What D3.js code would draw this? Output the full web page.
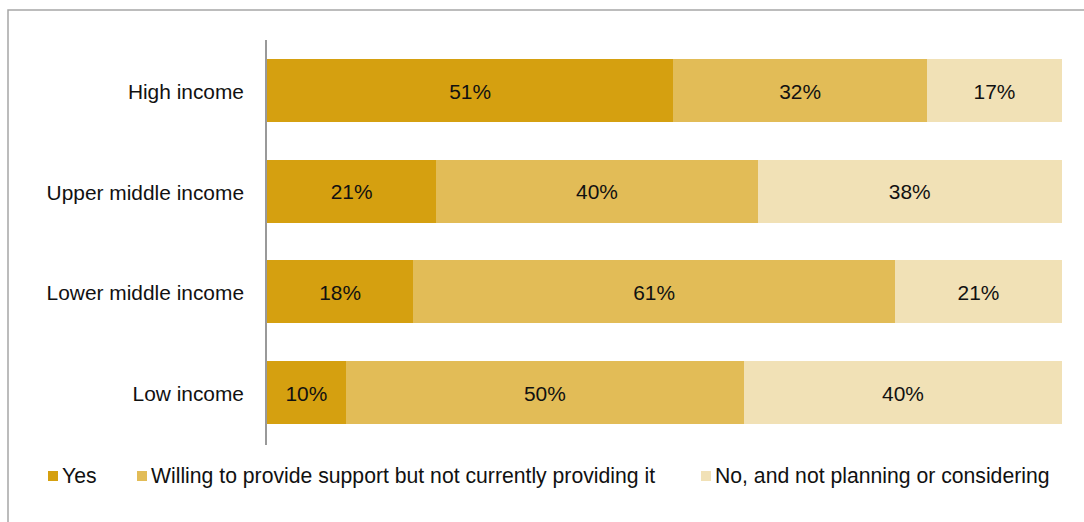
<!DOCTYPE html>
<html>
<head>
<meta charset="utf-8">
<script src="https://cdn.jsdelivr.net/npm/d3@7"></script>
<style>
  body { margin: 0; background: #fff; }
  svg { font-family: "Liberation Sans", Arial, sans-serif; }
</style>
</head>
<body>
<div id="chart"></div>
<script>
// chart data (shares, labels shown rounded)
var groups = ["High income", "Upper middle income", "Lower middle income", "Low income"]
var seriesNames = ["Yes", "Willing to provide support but not currently providing it", "No, and not planning or considering"]
var yesValues = [51.1, 21.3, 18.4, 9.9]
var willingValues = [31.9, 40.4, 60.6, 50.1]
var noValues = [17.0, 38.3, 21.0, 40.0]
var colors = ["#d5a010", "#e2bc57", "#f1e1b6"]

var width = 1084, height = 522
var margin = {top: 40, right: 22, bottom: 79, left: 267}
var fontSize = "20.9px"

var svg = d3.select("#chart")
  .append("svg")
    .attr("width", width)
    .attr("height", height)

// frame around the figure
svg.append("path")
  .attr("d", "M8,522 V10 H1084")
  .attr("fill", "none")
  .attr("stroke", "#a6a6a6")
  .attr("stroke-width", 1.5)

// build rows for stacking
var rows = groups.map(function(g, i) {
  var total = yesValues[i] + willingValues[i] + noValues[i]
  return {
    group: g,
    s0: yesValues[i] / total, s1: willingValues[i] / total, s2: noValues[i] / total,
    v0: yesValues[i], v1: willingValues[i], v2: noValues[i]
  }
})

var stack = d3.stack().keys(["s0", "s1", "s2"])
var stacked = stack(rows)

var x = d3.scaleLinear()
  .domain([0, 1])
  .range([margin.left, width - margin.right])

var y = d3.scaleBand()
  .domain(groups)
  .range([margin.top, height - margin.bottom])
  .paddingInner(0.375)
  .paddingOuter(0.1875)

// bars
stacked.forEach(function(layer, k) {
  var g = svg.append("g").attr("fill", colors[k])
  g.selectAll("rect")
    .data(layer)
    .enter()
    .append("rect")
      .attr("x", function(d) { return x(d[0]); })
      .attr("y", function(d) { return y(d.data.group); })
      .attr("width", function(d) { return x(d[1]) - x(d[0]); })
      .attr("height", y.bandwidth())
      .style("shape-rendering", "crispEdges")

  g.selectAll("text")
    .data(layer)
    .enter()
    .append("text")
      .attr("x", function(d) { return (x(d[0]) + x(d[1])) / 2; })
      .attr("y", function(d) { return y(d.data.group) + y.bandwidth() / 2; })
      .attr("dy", "0.4em")
      .attr("text-anchor", "middle")
      .attr("fill", "#111")
      .style("font-size", fontSize)
      .text(function(d) { return Math.round(d.data["v" + k]) + "%"; })
})

// y axis
var yAxis = svg.append("g")
  .attr("transform", "translate(" + (margin.left - 1) + ",0)")
  .call(d3.axisLeft(y).tickSize(0).tickPadding(22))
yAxis.select(".domain")
  .attr("stroke", "#999")
  .attr("stroke-width", 2)
  .attr("d", "M0," + margin.top + "V" + (height - margin.bottom + 2))
yAxis.selectAll("text")
  .attr("dy", "0.4em")
  .style("font-size", fontSize)
  .style("font-family", "'Liberation Sans', Arial, sans-serif")
  .attr("fill", "#111")

// legend
var legendX = [48, 137, 701]
var legend = svg.append("g")
  .selectAll("g")
  .data(seriesNames)
  .enter()
  .append("g")
    .attr("transform", function(d, i) { return "translate(" + legendX[i] + ",471)"; })
legend.append("rect")
  .attr("width", 10)
  .attr("height", 10)
  .attr("fill", function(d, i) { return colors[i]; })
legend.append("text")
  .attr("x", 14)
  .attr("y", 5)
  .attr("dy", "0.35em")
  .attr("fill", "#111")
  .style("font-size", "21.2px")
  .text(function(d) { return d; })
</script>
</body>
</html>
